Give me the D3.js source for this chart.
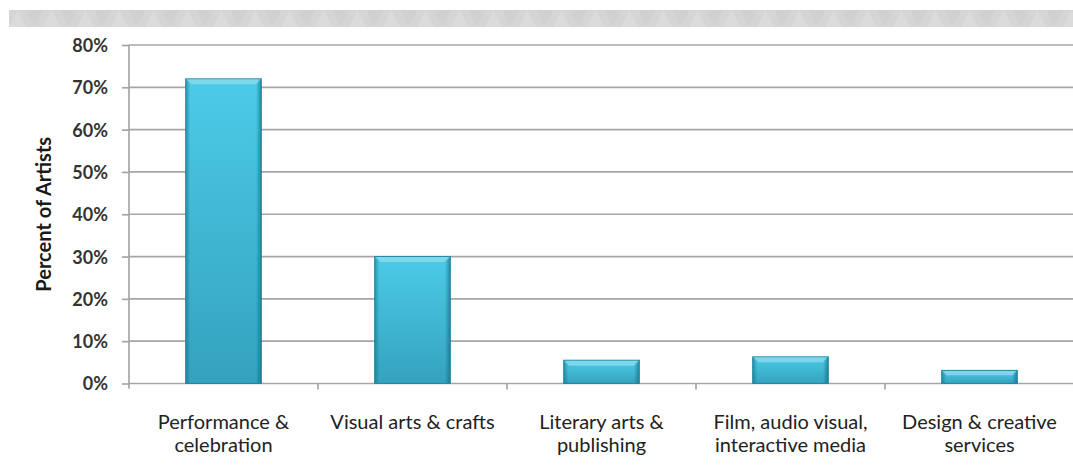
<!DOCTYPE html>
<html>
<head>
<meta charset="utf-8">
<script src="https://cdn.jsdelivr.net/npm/d3@7"></script>
<style>
  html, body { margin: 0; padding: 0; background: #fff; }
  svg { display: block; }
</style>
</head>
<body>
<script>
// Share of artists working in each creative field
const categories = [
  ["Performance &", "celebration"],
  ["Visual arts & crafts"],
  ["Literary arts &", "publishing"],
  ["Film, audio visual,", "interactive media"],
  ["Design & creative", "services"]
];
const values = [0.72, 0.30, 0.055, 0.063, 0.031];
const yTicks = [0, 0.1, 0.2, 0.3, 0.4, 0.5, 0.6, 0.7, 0.8];
const yTitle = "Percent of Artists";

const W = 1073, H = 469;
const margin = { left: 129, right: -1, top: 45, bottom: 85.5 };

const svg = d3.select("body").append("svg").attr("width", W).attr("height", H);
const defs = svg.append("defs");

// Decorative header band with faint triangle pattern
const pat = defs.append("pattern").attr("id", "tri").attr("patternUnits", "userSpaceOnUse")
  .attr("width", 34).attr("height", 17).attr("x", 9).attr("y", 10);
pat.append("rect").attr("width", 34).attr("height", 17).attr("fill", "#d5d5d6");
pat.append("path").attr("d", "M0,17 L8.5,0 L17,17 Z").attr("fill", "#dbdbdc");
pat.append("path").attr("d", "M17,0 L25.5,17 L34,0 Z").attr("fill", "#d1d1d2");
svg.append("rect").attr("x", 9).attr("y", 10).attr("width", W - 9).attr("height", 17)
  .attr("fill", "url(#tri)");

// Bar gradients
const gV = defs.append("linearGradient").attr("id", "barV").attr("x1", 0).attr("y1", 0).attr("x2", 0).attr("y2", 1);
gV.append("stop").attr("offset", "0%").attr("stop-color", "#4ccbe8");
gV.append("stop").attr("offset", "100%").attr("stop-color", "#34a2be");
const gH = defs.append("linearGradient").attr("id", "barH").attr("x1", 0).attr("y1", 0).attr("x2", 1).attr("y2", 0);
gH.append("stop").attr("offset", "0%").attr("stop-color", "#0b5f74").attr("stop-opacity", 0.5);
gH.append("stop").attr("offset", "6%").attr("stop-color", "#0b5f74").attr("stop-opacity", 0);
gH.append("stop").attr("offset", "93%").attr("stop-color", "#0b5f74").attr("stop-opacity", 0);
gH.append("stop").attr("offset", "100%").attr("stop-color", "#0b5f74").attr("stop-opacity", 0.6);

const x = d3.scaleBand()
  .domain(d3.range(categories.length))
  .range([margin.left, W - margin.right])
  .paddingInner(0.6).paddingOuter(0.3);
const y = d3.scaleLinear().domain([0, 0.8]).range([H - margin.bottom, margin.top]);

const font = "Lato, 'Open Sans', sans-serif";

// Gridlines
svg.append("g").selectAll("line").data(yTicks.slice(1)).join("line")
  .attr("x1", margin.left).attr("x2", W)
  .attr("y1", d => y(d)).attr("y2", d => y(d))
  .attr("stroke", "#a6a6a6").attr("stroke-width", 1.7);

// Y axis
const yAxis = svg.append("g").attr("transform", `translate(${margin.left},0)`)
  .call(d3.axisLeft(y).tickValues(yTicks).tickFormat(d3.format(".0%")).tickSize(7).tickPadding(14));
yAxis.select(".domain").attr("stroke", "#a6a6a6").attr("stroke-width", 1.7)
  .attr("d", `M0,${y(0.8)}V${y(0) + 5}`);
yAxis.selectAll(".tick line").attr("stroke", "#a6a6a6").attr("stroke-width", 1.7);
yAxis.selectAll(".tick text").attr("font-family", font).attr("font-weight", "bold")
  .attr("font-size", 18).attr("fill", "#333").attr("dy", "0.36em");

// X axis baseline and category separators
const xAxis = svg.append("g").attr("transform", `translate(0,${y(0)})`);
xAxis.append("line").attr("x1", margin.left).attr("x2", W).attr("stroke", "#a6a6a6").attr("stroke-width", 1.7);
const step = x.step();
xAxis.selectAll("line.sep").data(d3.range(1, categories.length)).join("line").attr("class", "sep")
  .attr("x1", i => x(i) - (x.paddingInner() * step) / 2)
  .attr("x2", i => x(i) - (x.paddingInner() * step) / 2)
  .attr("y1", 0).attr("y2", 6).attr("stroke", "#a6a6a6").attr("stroke-width", 1.7);

// Category labels
const lab = svg.append("g").selectAll("text").data(categories).join("text")
  .attr("text-anchor", "middle").attr("font-family", font).attr("font-size", 20)
  .attr("fill", "#222")
  .attr("transform", (d, i) => `translate(${x(i) + x.bandwidth() / 2},${y(0) + 45.5})`);
lab.selectAll("tspan").data(d => d).join("tspan")
  .attr("x", 0).attr("dy", (d, j) => j === 0 ? 0 : 23).text(d => d);

// Bars
const bars = svg.append("g").selectAll("g").data(values).join("g");
bars.append("rect")
  .attr("x", (d, i) => x(i)).attr("y", d => y(d))
  .attr("width", x.bandwidth()).attr("height", d => y(0) - y(d))
  .attr("fill", "url(#barV)");
bars.append("rect")
  .attr("x", (d, i) => x(i)).attr("y", d => y(d))
  .attr("width", x.bandwidth()).attr("height", d => y(0) - y(d))
  .attr("fill", "url(#barH)").attr("stroke", "#23889f").attr("stroke-width", 1);
// top bevel highlight
bars.append("path")
  .attr("d", (d, i) => {
    const x0 = x(i) + 0.5, x1 = x(i) + x.bandwidth() - 0.5, t = y(d) + 0.5;
    const b = Math.min(5, (y(0) - y(d)) / 3);
    return `M${x0},${t}L${x1},${t}L${x1 - b},${t + b}L${x0 + b},${t + b}Z`;
  })
  .attr("fill", "#8fdcee").attr("opacity", 0.75);

// Y axis title
svg.append("text")
  .attr("transform", `translate(51,${(y(0.8) + y(0)) / 2}) rotate(-90)`)
  .attr("text-anchor", "middle").attr("font-family", font).attr("font-weight", "bold")
  .attr("font-size", 20).attr("fill", "#1a1a1a").text(yTitle);
</script>
</body>
</html>
